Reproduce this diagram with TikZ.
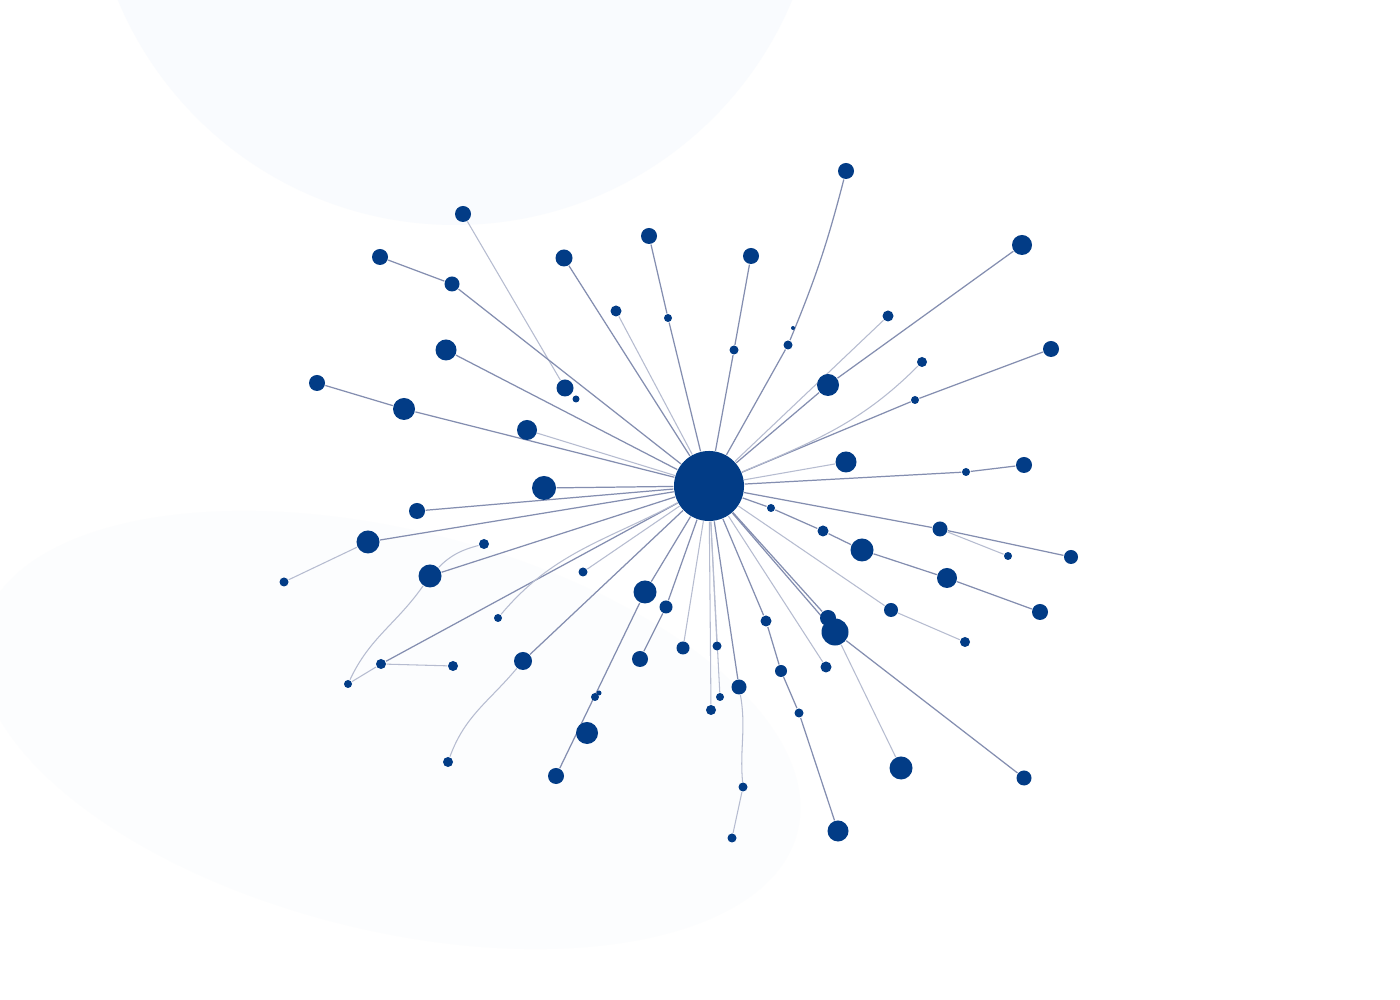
\documentclass[tikz,border=0pt]{standalone}
\usepackage{tikz}
\usetikzlibrary{backgrounds}
\definecolor{netblue}{RGB}{2,60,134}
\definecolor{linkgray}{RGB}{132,142,176}
\definecolor{faintgray}{RGB}{182,188,208}
\definecolor{haze}{RGB}{249,251,254}
\definecolor{mist}{RGB}{252,253,254}
\pgfdeclarelayer{haze}
\pgfdeclarelayer{links}
\pgfsetlayers{haze,links,main}
\tikzset{
	vtx/.style={circle, fill=netblue, inner sep=0pt, minimum size=#1*0.2845pt},
	link/.style={draw=linkgray, line width=0.35pt},
	faint/.style={draw=faintgray, line width=0.3pt}
}
\begin{document}
\begin{tikzpicture}[x=0.01cm, y=0.01cm]
	\useasboundingbox (0,0) rectangle (1400,1000);
	
	\node[vtx=70] (hub) at (709,514) {};
	
	% upper left
	\node[vtx=16] (u1) at (463,786) {};
	\node[vtx=16] (u2) at (380,743) {};
	\node[vtx=15] (u3) at (452,716) {};
	\node[vtx=17] (u4) at (564,742) {};
	\node[vtx=16] (u5) at (649,764) {};
	\node[vtx=11] (u6) at (616,689) {};
	\node[vtx=8] (u7) at (668,682) {};
	\node[vtx=21] (u8) at (446,650) {};
	\node[vtx=16] (u9) at (317,617) {};
	\node[vtx=22] (u10) at (404,591) {};
	\node[vtx=17] (u11) at (565,612) {};
	\node[vtx=7] (u12) at (576,601) {};
	\node[vtx=20] (u13) at (527,570) {};
	\node[vtx=24] (u14) at (544,512) {};
	
	% upper right
	\node[vtx=16] (r1) at (846,829) {};
	\node[vtx=16] (r2) at (751,744) {};
	\node[vtx=20] (r3) at (1022,755) {};
	\node[vtx=11] (r4) at (888,684) {};
	\node[vtx=16] (r5) at (1051,651) {};
	\node[vtx=9] (r6) at (734,650) {};
	\node[vtx=9] (r7) at (788,655) {};
	\node[vtx=4] (r8) at (793,672) {};
	\node[vtx=10] (r9) at (922,638) {};
	\node[vtx=22] (r10) at (828,615) {};
	\node[vtx=8] (r11) at (915,600) {};
	\node[vtx=21] (r12) at (846,538) {};
	\node[vtx=16] (r13) at (1024,535) {};
	\node[vtx=8] (r14) at (966,528) {};
	
	% lower left
	\node[vtx=16] (l1) at (417,489) {};
	\node[vtx=23] (l2) at (368,458) {};
	\node[vtx=10] (l3) at (484,456) {};
	\node[vtx=23] (l4) at (430,424) {};
	\node[vtx=9] (l5) at (284,418) {};
	\node[vtx=9] (l6) at (583,428) {};
	\node[vtx=23] (l7) at (645,408) {};
	\node[vtx=13] (l8) at (666,393) {};
	\node[vtx=8] (l9) at (498,382) {};
	\node[vtx=10] (l10) at (381,336) {};
	\node[vtx=10] (l11) at (453,334) {};
	\node[vtx=8] (l12) at (348,316) {};
	\node[vtx=18] (l13) at (523,339) {};
	\node[vtx=16] (l14) at (640,341) {};
	\node[vtx=13] (l15) at (683,352) {};
	\node[vtx=5] (l16) at (599,307) {};
	\node[vtx=8] (l17) at (595,303) {};
	\node[vtx=22] (l18) at (587,267) {};
	\node[vtx=10] (l19) at (448,238) {};
	\node[vtx=16] (l20) at (556,224) {};
	
	% lower right
	\node[vtx=8] (b1) at (771,492) {};
	\node[vtx=11] (b2) at (823,469) {};
	\node[vtx=15] (b3) at (940,471) {};
	\node[vtx=8] (b4) at (1008,444) {};
	\node[vtx=14] (b5) at (1071,443) {};
	\node[vtx=23] (b6) at (862,450) {};
	\node[vtx=20] (b7) at (947,422) {};
	\node[vtx=16] (b8) at (1040,388) {};
	\node[vtx=14] (b9) at (891,390) {};
	\node[vtx=10] (b10) at (965,358) {};
	\node[vtx=16] (b11) at (828,382) {};
	\node[vtx=27] (b12) at (835,368) {};
	\node[vtx=11] (b13) at (766,379) {};
	\node[vtx=9] (b14) at (717,354) {};
	\node[vtx=11] (b15) at (826,333) {};
	\node[vtx=12] (b16) at (781,329) {};
	\node[vtx=15] (b17) at (739,313) {};
	\node[vtx=8] (b18) at (720,303) {};
	\node[vtx=10] (b19) at (711,290) {};
	\node[vtx=9] (b20) at (799,287) {};
	\node[vtx=23] (b21) at (901,232) {};
	\node[vtx=15] (b22) at (1024,222) {};
	\node[vtx=9] (b23) at (743,213) {};
	\node[vtx=9] (b24) at (732,162) {};
	\node[vtx=21] (b25) at (838,169) {};
	
	% pale shapes behind
	\begin{pgfonlayer}{haze}
		\fill[white] (0,0) rectangle (1400,1000);
		\fill[haze] (455,1140) circle (365);
		\fill[mist, rotate around={-14:(390,270)}] (390,270) ellipse (420 and 200);
	\end{pgfonlayer}
	
	% links
	\begin{pgfonlayer}{links}
		\draw[faint] (u1) -- (u11);
		\draw[link] (u2) -- (u3);
		\draw[link] (u3) -- (hub);
		\draw[link] (u4) -- (hub);
		\draw[faint] (u6) -- (hub);
		\draw[link] (u5) -- (u7);
		\draw[link] (u7) -- (hub);
		\draw[link] (u8) -- (hub);
		\draw[link] (u9) -- (u10);
		\draw[link] (u10) -- (hub);
		\draw[faint] (u13) -- (hub);
		\draw[link] (u14) -- (hub);
		
		\draw[link] (r1) to[bend left=4] (r7);
		\draw[link] (r7) -- (hub);
		\draw[link] (r2) -- (r6);
		\draw[link] (r6) -- (hub);
		\draw[link] (r3) -- (r10);
		\draw[link] (r10) -- (hub);
		\draw[faint] (r4) -- (hub);
		\draw[link] (r5) -- (r11);
		\draw[link] (r11) -- (hub);
		\draw[faint] (r9) to[out=225, in=23] (hub);
		\draw[faint] (r12) -- (hub);
		\draw[link] (r13) -- (r14);
		\draw[link] (r14) -- (hub);
		
		\draw[link] (l1) -- (hub);
		\draw[link] (l2) -- (hub);
		\draw[faint] (l5) -- (l2);
		\draw[link] (l4) -- (hub);
		\draw[faint] (l3) to[out=195, in=45] (l4);
		\draw[faint] (l4) to[out=235, in=65] (l12);
		\draw[faint] (l12) -- (l10);
		\draw[link] (l10) -- (hub);
		\draw[faint] (l11) -- (l10);
		\draw[faint] (l9) to[out=50, in=208] (hub);
		\draw[faint] (l6) -- (hub);
		\draw[link] (l13) -- (hub);
		\draw[faint] (l13) to[out=230, in=70] (l19);
		\draw[link] (l7) -- (hub);
		\draw[link] (l7) -- (l20);
		\draw[link] (l8) -- (hub);
		\draw[link] (l8) -- (l14);
		\draw[faint] (l15) -- (hub);
		
		\draw[link] (hub) -- (b1) -- (b2) -- (b6) -- (b7) -- (b8);
		\draw[link] (hub) -- (b3) -- (b5);
		\draw[faint] (b3) -- (b4);
		\draw[faint] (hub) -- (b9) -- (b10);
		\draw[link] (hub) -- (b11);
		\draw[link] (hub) -- (b12);
		\draw[link] (b12) -- (b22);
		\draw[faint] (b12) -- (b21);
		\draw[faint] (hub) -- (b15);
		\draw[link] (hub) -- (b13) -- (b16) -- (b20) -- (b25);
		\draw[faint] (hub) -- (b14);
		\draw[link] (hub) -- (b17);
		\draw[faint] (b17) to[out=-80, in=95] (b23);
		\draw[faint] (b23) -- (b24);
		\draw[faint] (hub) -- (b18);
		\draw[faint] (hub) -- (b19);
	\end{pgfonlayer}
	
\end{tikzpicture}
\end{document}
